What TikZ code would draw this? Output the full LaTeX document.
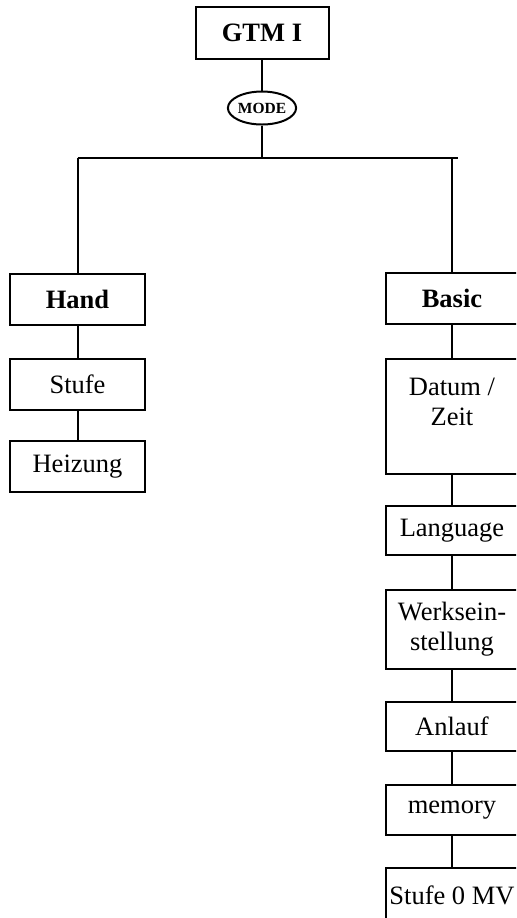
\documentclass[tikz,border=0pt]{standalone}
\usepackage{fontspec}
\setmainfont{Liberation Serif}
\usepackage{tikz}
\usetikzlibrary{shapes.geometric}

\tikzset{
  menubox/.style={draw,line width=1pt,minimum width=66pt,minimum height=25.5pt,inner sep=1pt,align=center,
    font=\fontsize{13.25}{15}\selectfont},
  headbox/.style={menubox,font=\fontsize{13.25}{15}\selectfont\bfseries},
  wire/.style={line width=1pt}
}

\begin{document}
\begin{tikzpicture}[x=0.5pt,y=-0.5pt]
% Page frame
\useasboundingbox (0,0) rectangle (516,918);
\clip (0,0) rectangle (516,918);
% Top of the tree
\node[headbox,minimum width=66.5pt,minimum height=26pt] (gtm) at (262,33) {GTM I};
\node[draw,ellipse,line width=1pt,minimum width=30.5pt,minimum height=16.5pt,inner sep=0pt,
  font=\fontsize{7.75}{8}\selectfont\bfseries] (mode) at (262,108) {MODE};
% Bus
\coordinate (busM) at (262,158);
\coordinate (busL) at (77.5,158);
\coordinate (busR) at (458,158);
\coordinate (busB) at (452,158);
% Left column
\node[headbox,minimum width=67.5pt] (hand) at (77.5,299.5) {Hand};
\node[menubox,minimum width=67.5pt] (stufe) at (77.5,384.5) {Stufe};
\node[menubox,minimum width=67.5pt] (heizung) at (77.5,466.5) {Heizung};
% Right column
\node[headbox] (basic) at (452,298.5) {Basic};
\node[menubox,minimum height=57.5pt] (datum) at (452,416.5) {Datum /\\Zeit\\~};
\node[menubox,minimum height=24.5pt] (language) at (452,530.5) {Language};
\node[menubox,minimum height=39.5pt] (werk) at (452,629.5) {Werksein-\\stellung};
\node[menubox,minimum height=24.5pt] (anlauf) at (452,726.5) {Anlauf};
\node[menubox,minimum height=25pt] (memory) at (452,810) {memory};
\node[menubox,minimum height=27pt] (stufenull) at (452,895) {Stufe 0 MV};
% Connectors
\draw[wire] (gtm) -- (mode);
\draw[wire] (mode) -- (busM);
\draw[wire] (busL) -- (busR);
\draw[wire] (busL) -- (hand);
\draw[wire] (busB) -- (basic);
\draw[wire] (hand) -- (stufe);
\draw[wire] (stufe) -- (heizung);
\draw[wire] (basic) -- (datum);
\draw[wire] (datum) -- (language);
\draw[wire] (language) -- (werk);
\draw[wire] (werk) -- (anlauf);
\draw[wire] (anlauf) -- (memory);
\draw[wire] (memory) -- (stufenull);
\end{tikzpicture}
\end{document}
